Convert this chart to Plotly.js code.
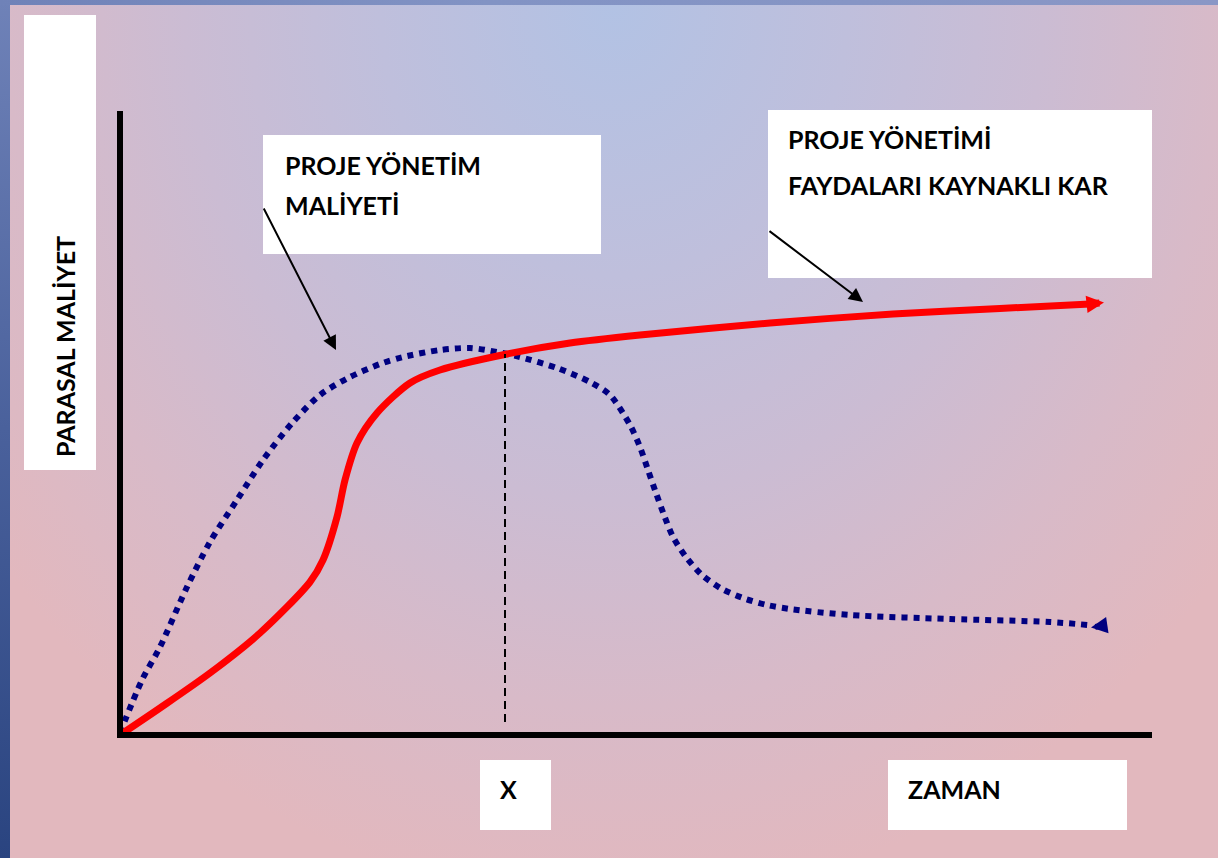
<!DOCTYPE html>
<html>
<head>
<meta charset="utf-8">
<script src="https://cdn.plot.ly/plotly-3.0.1.min.js"></script>
<style>
  html, body { margin: 0; padding: 0; }
  #wrap {
    position: relative; width: 1218px; height: 858px; overflow: hidden;
    background: linear-gradient(to bottom, #6f82b8 0%, #4a619c 50%, #2a4480 100%);
  }
  #topband { position: absolute; left: 0; top: 0; width: 1218px; height: 5px; background: linear-gradient(to right, #6f82b8, #8293c4 40%, #8a97c6 100%); }
  #bg {
    position: absolute; left: 10px; top: 5px; width: 1208px; height: 853px;
    background: radial-gradient(ellipse 780px 900px at 50% 0%, #b2c2e4 0%, #bfbfdc 30%, #cbbcd3 55%, #d8bac8 78%, #e2b8be 100%);
  }
  #chart { position: absolute; left: 0; top: 0; width: 1218px; height: 858px; }
</style>
</head>
<body>
<div id="wrap">
  <div id="bg"></div>
  <div id="topband"></div>
  <div id="chart"></div>
</div>
<script>
// ---- data (time units vs. monetary units) ----
const profitTime  = [0, 4, 9, 14, 19, 20.3, 21.7, 22.5, 23.7, 25.7, 29, 32, 38.7, 45, 52, 65, 77.3, 88, 97];
const profitValue = [0, 5.4, 12.4, 20.4, 30.6, 35, 43.6, 51, 58.4, 64.4, 70.4, 73, 76.2, 78.4, 80.0, 82.4, 84.2, 85.3, 86.2];

const costTime  = [0, 2.2, 4, 6.7, 9, 11.7, 14.3, 17.3, 20, 22.8, 26, 28.3, 32, 35, 37.7, 40, 43.7, 47, 49, 51, 52, 52.8, 53.6, 54.4, 55.3, 56.6, 58.2, 60.2, 62.3, 64.7, 67, 73, 83, 93, 96.8];
const costValue = [0.4, 11, 17.6, 29.6, 38.6, 47, 55, 62.6, 68, 71.4, 74.2, 75.6, 77, 77.4, 76.6, 75.6, 73.4, 70.6, 68, 62, 57.6, 53, 48.4, 44, 39.6, 35.6, 32, 29.2, 27.4, 26, 25.2, 24, 23.2, 22.6, 22];

const breakEvenTime = 38.5;          // point "X"
const breakEvenValue = 76.2;
const axisTopValue = 124.8;
const axisEndTime = 103.2;

const labels = {
  yAxis: "PARASAL MALİYET",
  xAxis: "ZAMAN",
  point: "X",
  costLine1: "PROJE YÖNETİM",
  costLine2: "MALİYETİ",
  profitLine1: "PROJE YÖNETİMİ",
  profitLine2: "FAYDALARI KAYNAKLI KAR"
};

// ---- helpers for layout positions (figure pixels -> paper) ----
const W = 1218, H = 858;
const PX = x => x / W;
const PY = y => 1 - y / H;

const traces = [
  { x: costTime, y: costValue, mode: 'lines', type: 'scatter',
    line: { color: '#000080', width: 6, dash: '6px,6px', shape: 'spline', smoothing: 0.8 }, hoverinfo: 'skip' },
  { x: profitTime, y: profitValue, mode: 'lines', type: 'scatter',
    line: { color: '#ff0000', width: 7, shape: 'spline', smoothing: 0.8 }, hoverinfo: 'skip' }
];

function box(x0, y0, x1, y1) {
  return { type: 'rect', xref: 'paper', yref: 'paper', x0: PX(x0), x1: PX(x1), y0: PY(y1), y1: PY(y0),
           fillcolor: '#ffffff', line: { width: 0 }, layer: 'below' };
}

const shapes = [
  box(24, 15, 96, 470),
  box(263, 135, 601, 254),
  box(768, 110, 1152, 278),
  box(480, 760, 551, 830),
  box(888, 760, 1127, 830),
  // axes
  { type: 'line', xref: 'x', yref: 'y', x0: 0, x1: 0, y0: -0.5, y1: axisTopValue, line: { color: '#000', width: 6 } },
  { type: 'line', xref: 'x', yref: 'y', x0: -0.3, x1: axisEndTime, y0: 0, y1: 0, line: { color: '#000', width: 6 } },
  // dashed marker at X
  { type: 'line', xref: 'x', yref: 'y', x0: breakEvenTime, x1: breakEvenTime, y0: 2.6, y1: breakEvenValue, line: { color: '#000', width: 2, dash: '8px,5px' } }
];

const font = { family: 'Lato, "Open Sans", sans-serif', size: 25, color: '#000' };
function txt(s, x, y, xanchor, extra) {
  return Object.assign({ text: '<b>' + s + '</b>', xref: 'paper', yref: 'paper', x: PX(x), y: PY(y),
    xanchor: xanchor, yanchor: 'middle', showarrow: false, font: font }, extra || {});
}
const n = profitTime.length, m = costTime.length;
const annotations = [
  txt(labels.yAxis, 65, 347, 'center', { textangle: -90 }),
  txt(labels.costLine1, 283, 165, 'left'),
  txt(labels.costLine2, 283, 205, 'left'),
  txt(labels.profitLine1, 786, 139, 'left'),
  txt(labels.profitLine2, 786, 185, 'left'),
  txt(labels.point, 508, 789, 'center'),
  txt(labels.xAxis, 906, 789, 'left'),
  // pointer arrows
  { xref: 'x', yref: 'y', axref: 'x', ayref: 'y', x: 21.6, y: 77, ax: 14.3, ay: 105.6, text: '', showarrow: true,
    arrowhead: 2, arrowsize: 1.4, arrowwidth: 2, arrowcolor: '#000', standoff: 0 },
  { xref: 'x', yref: 'y', axref: 'x', ayref: 'y', x: 74.3, y: 86.6, ax: 64.8, ay: 101, text: '', showarrow: true,
    arrowhead: 2, arrowsize: 1.4, arrowwidth: 2, arrowcolor: '#000', standoff: 0 },
  // arrow heads at line ends
  { xref: 'x', yref: 'y', axref: 'x', ayref: 'y', x: 98.4, y: 86.5, ax: profitTime[n - 1], ay: profitValue[n - 1], text: '', showarrow: true,
    arrowhead: 2, arrowsize: 0.5, arrowwidth: 7, arrowcolor: '#ff0000', standoff: 0 },
  { xref: 'x', yref: 'y', axref: 'x', ayref: 'y', x: 97.1, y: 21.5, ax: 98.8, ay: 22, text: '', showarrow: true,
    arrowhead: 2, arrowsize: 0.55, arrowwidth: 6, arrowcolor: '#000080', standoff: 0 }
];

const layout = {
  width: W, height: H,
  margin: { l: 0, r: 0, t: 0, b: 0, pad: 0 },
  paper_bgcolor: 'rgba(0,0,0,0)', plot_bgcolor: 'rgba(0,0,0,0)',
  showlegend: false,
  xaxis: { range: [-12, 109.8], visible: false, fixedrange: true },
  yaxis: { range: [-24.6, 147], visible: false, fixedrange: true },
  shapes: shapes,
  annotations: annotations
};

Plotly.newPlot('chart', traces, layout, { displayModeBar: false, staticPlot: true });
</script>
</body>
</html>
